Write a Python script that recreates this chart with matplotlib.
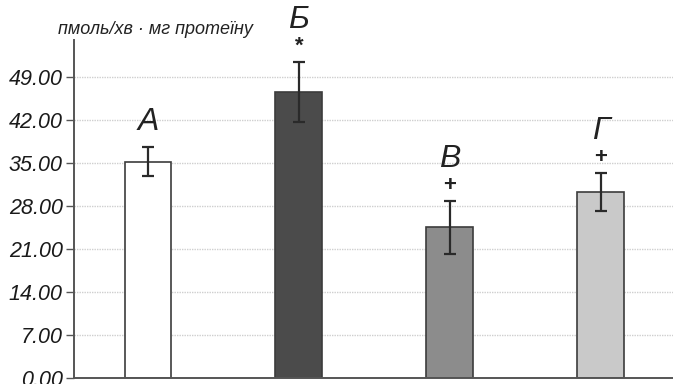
import matplotlib.pyplot as plt
import numpy as np

groups = ["А", "Б", "В", "Г"]
means = [35.2, 46.6, 24.5, 30.3]
errors = [2.4, 4.9, 4.3, 3.1]
marks = ["", "*", "+", "+"]
colors = ["#ffffff", "#4b4b4b", "#8c8c8c", "#c9c9c9"]
yticks = [0, 7, 14, 21, 28, 35, 42, 49]

plt.rcParams['font.family'] = ['Liberation Sans', 'DejaVu Sans']

fig = plt.figure(figsize=(6.73, 3.84), dpi=100)
ax = fig.add_axes([74 / 673, 6 / 384, 1 - 74 / 673, 338 / 384])

x = np.arange(len(groups))
ax.bar(x, means, width=0.31, color=colors, edgecolor="#3c3c3c",
       linewidth=1.2, zorder=2)
ax.errorbar(x, means, yerr=errors, fmt="none", ecolor="#2a2a2a",
            elinewidth=1.6, capsize=4, capthick=1.6, zorder=3)

for xi, m, e, g, mk in zip(x, means, errors, groups, marks):
    top = m + e
    if mk:
        ax.annotate(mk, (xi, top), xytext=(0, 11), textcoords="offset points",
                    ha="center", va="center", fontsize=16, color="#222222",
                    fontweight="bold", annotation_clip=False)
        off = 30
    else:
        off = 18
    ax.annotate(g, (xi, top), xytext=(0, off), textcoords="offset points",
                ha="center", va="center", fontsize=23, style="italic",
                color="#222222", annotation_clip=False)

ax.set_xlim(-0.49, 3.48)
ax.set_ylim(0, 55)
ax.set_yticks(yticks)
ax.set_yticklabels([f"{v:.2f}" for v in yticks], fontsize=15.5, style="italic",
                   color="#1a1a1a")
ax.set_xticks([])
ax.tick_params(axis="y", length=6, width=1, color="#555555", pad=2)

# light dotted guide lines behind the bars
ax.yaxis.grid(True, linestyle=(0, (1, 0.8)), color="#cfcfcf", linewidth=1.0,
              zorder=0)
ax.set_axisbelow(True)
for side in ("top", "right"):
    ax.spines[side].set_visible(False)
ax.spines["left"].set_color("#555555")
ax.spines["left"].set_linewidth(1.4)
ax.spines["bottom"].set_color("#555555")
ax.spines["bottom"].set_linewidth(1.4)

fig.text(155 / 673, 1 - 30 / 384, "пмоль/хв · мг протеїну", ha="center",
         va="center", fontsize=13, style="italic", color="#222222")

fig.savefig("out.png", dpi=100)
